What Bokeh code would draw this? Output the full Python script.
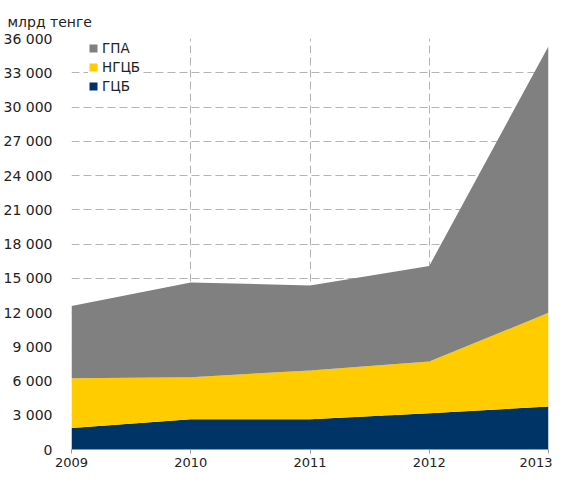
from bokeh.plotting import figure
from bokeh.models import ColumnDataSource, Legend, LegendItem, FixedTicker, Range1d
from bokeh.embed import file_html
from bokeh.resources import INLINE

years = [2009, 2010, 2011, 2012, 2013]
gcb = [1880, 2650, 2650, 3170, 3760]      # ГЦБ
ngcb = [4360, 3680, 4280, 4530, 8210]     # НГЦБ
gpa = [6330, 8300, 7440, 8380, 23350]     # ГПА
series_names = ["ГЦБ", "НГЦБ", "ГПА"]
colors = ["#003366", "#FFCC00", "#808080"]
y_ticks = [0, 3000, 6000, 9000, 12000, 15000, 18000, 21000, 24000, 27000, 30000, 33000, 36000]
y_tick_labels = ["0", "3 000", "6 000", "9 000", "12 000", "15 000", "18 000", "21 000",
                 "24 000", "27 000", "30 000", "33 000", "36 000"]
unit_label = "млрд тенге"

FONT = "DejaVu Sans"

src = ColumnDataSource(dict(x=years, gcb=gcb, ngcb=ngcb, gpa=gpa))

p = figure(width=552, height=470, output_backend="svg", toolbar_location=None,
           x_range=Range1d(2009, 2013), y_range=Range1d(0, 36000),
           min_border_left=68, min_border_right=4, min_border_top=38, min_border_bottom=21)
p.outline_line_color = None
p.background_fill_color = "white"

p.title.text = unit_label
p.title.text_font = FONT
p.title.text_font_size = "14px"
p.title.text_font_style = "normal"
p.title.text_color = "#222222"
p.title.align = "left"
p.title.offset = -64
p.title.standoff = 17

rs = p.varea_stack(["gcb", "ngcb", "gpa"], x="x", source=src, color=colors)

p.xaxis.ticker = FixedTicker(ticks=years)
p.yaxis.ticker = FixedTicker(ticks=y_ticks)
p.yaxis.major_label_overrides = {t: l for t, l in zip(y_ticks, y_tick_labels)}
p.xaxis.major_label_overrides = {y: str(y) for y in years}

for ax in (p.xaxis[0], p.yaxis[0]):
    ax.major_label_text_font = FONT
    ax.major_label_text_font_size = "13px"
    ax.major_label_text_color = "#222222"
    ax.minor_tick_line_color = None

p.yaxis.major_label_text_font_size = "14px"
p.yaxis.axis_line_color = None
p.yaxis.major_tick_line_color = None
p.yaxis.major_label_standoff = 13
p.xaxis.axis_line_color = "#999999"
p.xaxis.major_tick_line_color = "#999999"
p.xaxis.major_tick_in = 0
p.xaxis.major_tick_out = 4
p.xaxis.major_label_standoff = 4

for g in (p.xgrid[0], p.ygrid[0]):
    g.grid_line_color = "#b4b4b4"
    g.grid_line_dash = "8 4"
    g.grid_line_width = 1
    g.level = "underlay"

legend = Legend(items=[LegendItem(label=series_names[2], renderers=[rs[2]]),
                       LegendItem(label=series_names[1], renderers=[rs[1]]),
                       LegendItem(label=series_names[0], renderers=[rs[0]])],
                location=(17, 355), border_line_color=None, background_fill_color="white",
                background_fill_alpha=1.0, padding=4, spacing=3, margin=0,
                label_text_font=FONT, label_text_font_size="13.5px", label_text_color="#222222",
                glyph_width=10, glyph_height=10, label_height=14, label_standoff=4)
p.add_layout(legend, "center")

open("out.html", "w").write(file_html(p, INLINE))
